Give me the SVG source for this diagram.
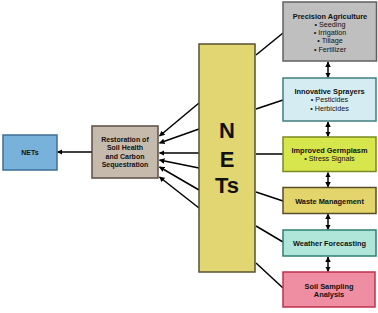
<svg xmlns="http://www.w3.org/2000/svg" width="378" height="313" viewBox="0 0 378 313">
<defs>
<marker id="ah" viewBox="0 0 10 10" refX="9" refY="5" markerWidth="5.5" markerHeight="5.5" orient="auto-start-reverse" markerUnits="userSpaceOnUse">
<path d="M0,0 L10,5 L0,10 z" fill="#000"/>
</marker>
<style>
text{font-family:"Liberation Sans",Arial,sans-serif;fill:#111;text-anchor:middle}
.t{font-weight:bold;font-size:7px}
.r{font-weight:bold;font-size:7.4px}
.b{font-size:7.2px}
.big{font-weight:bold;font-size:22px}
.c line{stroke:#000;stroke-width:1.5}
.box{stroke-width:1.5}
</style>
</defs>
<rect width="378" height="313" fill="#fff"/>
<g class="c">
<line x1="92" y1="152" x2="57.5" y2="152" marker-end="url(#ah)"/>
<line x1="199" y1="103" x2="159.5" y2="136" marker-end="url(#ah)"/>
<line x1="199" y1="129" x2="159.5" y2="143" marker-end="url(#ah)"/>
<line x1="199" y1="153" x2="159.5" y2="153" marker-end="url(#ah)"/>
<line x1="199" y1="168" x2="159.5" y2="160" marker-end="url(#ah)"/>
<line x1="199" y1="190" x2="159.5" y2="167" marker-end="url(#ah)"/>
<line x1="199" y1="208" x2="159.5" y2="177" marker-end="url(#ah)"/>
<line x1="256" y1="55" x2="283" y2="33"/>
<line x1="256" y1="109" x2="283" y2="100"/>
<line x1="256" y1="154" x2="283" y2="154"/>
<line x1="256" y1="192" x2="283" y2="201"/>
<line x1="256" y1="226" x2="283" y2="242"/>
<line x1="256" y1="263" x2="283" y2="288"/>
<line x1="328" y1="62" x2="328" y2="77.5" marker-start="url(#ah)" marker-end="url(#ah)"/>
<line x1="328" y1="122" x2="328" y2="136.5" marker-start="url(#ah)" marker-end="url(#ah)"/>
<line x1="328" y1="172.5" x2="328" y2="187" marker-start="url(#ah)" marker-end="url(#ah)"/>
<line x1="328" y1="214" x2="328" y2="229.5" marker-start="url(#ah)" marker-end="url(#ah)"/>
<line x1="328" y1="257" x2="328" y2="271.5" marker-start="url(#ah)" marker-end="url(#ah)"/>
</g>
<g id="nets-out">
<rect class="box" x="3" y="135" width="54" height="35" fill="#78b2da" stroke="#3c6f98"/>
<text class="t" x="30" y="154.5">NETs</text>
</g>
<g id="restoration">
<rect class="box" x="92" y="126" width="66" height="52" fill="#c6baad" stroke="#5a4e45"/>
<text class="t" x="125" y="141.5">Restoration of</text>
<text class="t" x="125" y="150">Soil Health</text>
<text class="t" x="125" y="158.5">and Carbon</text>
<text class="t" x="125" y="167">Sequestration</text>
</g>
<g id="nets-main">
<rect class="box" x="199" y="44" width="56" height="228" fill="#e2d672" stroke="#5a5032"/>
<text class="big" x="227" y="138">N</text>
<text class="big" x="227" y="167">E</text>
<text class="big" x="227" y="193">Ts</text>
</g>
<g id="precision">
<rect class="box" x="283" y="2" width="93.5" height="59" fill="#bfbfbf" stroke="#606060"/>
<text class="r" x="330" y="18.5">Precision Agriculture</text>
<text class="b" x="330" y="26.5">•  Seeding</text>
<text class="b" x="330" y="34.5">•  Irrigation</text>
<text class="b" x="330" y="43">•  Tillage</text>
<text class="b" x="330" y="51.5">•  Fertilizer</text>
</g>
<g id="sprayers">
<rect class="box" x="283" y="78" width="93" height="43" fill="#d6ecf3" stroke="#3f7f7e"/>
<text class="r" x="329.5" y="93.5">Innovative Sprayers</text>
<text class="b" x="329.5" y="102">•  Pesticides</text>
<text class="b" x="329.5" y="110.5">•  Herbicides</text>
</g>
<g id="germplasm">
<rect class="box" x="283" y="137" width="93" height="34.5" fill="#d7e64c" stroke="#7a8a22"/>
<text class="r" x="329.5" y="152.5">Improved Germplasm</text>
<text class="b" x="329.5" y="160.5">•  Stress Signals</text>
</g>
<g id="waste">
<rect class="box" x="283" y="187.5" width="93" height="26" fill="#e3d46b" stroke="#5a4e2a"/>
<text class="r" x="329.5" y="203.5">Waste Management</text>
</g>
<g id="weather">
<rect class="box" x="283" y="230" width="93" height="26" fill="#b0e6d9" stroke="#2f7f74"/>
<text class="r" x="329.5" y="245.5">Weather Forecasting</text>
</g>
<g id="soil">
<rect class="box" x="283" y="272" width="92" height="35" fill="#ef8ea3" stroke="#c0304c"/>
<text class="r" x="329" y="288.5">Soil Sampling</text>
<text class="r" x="329" y="296.5">Analysis</text>
</g>
</svg>
